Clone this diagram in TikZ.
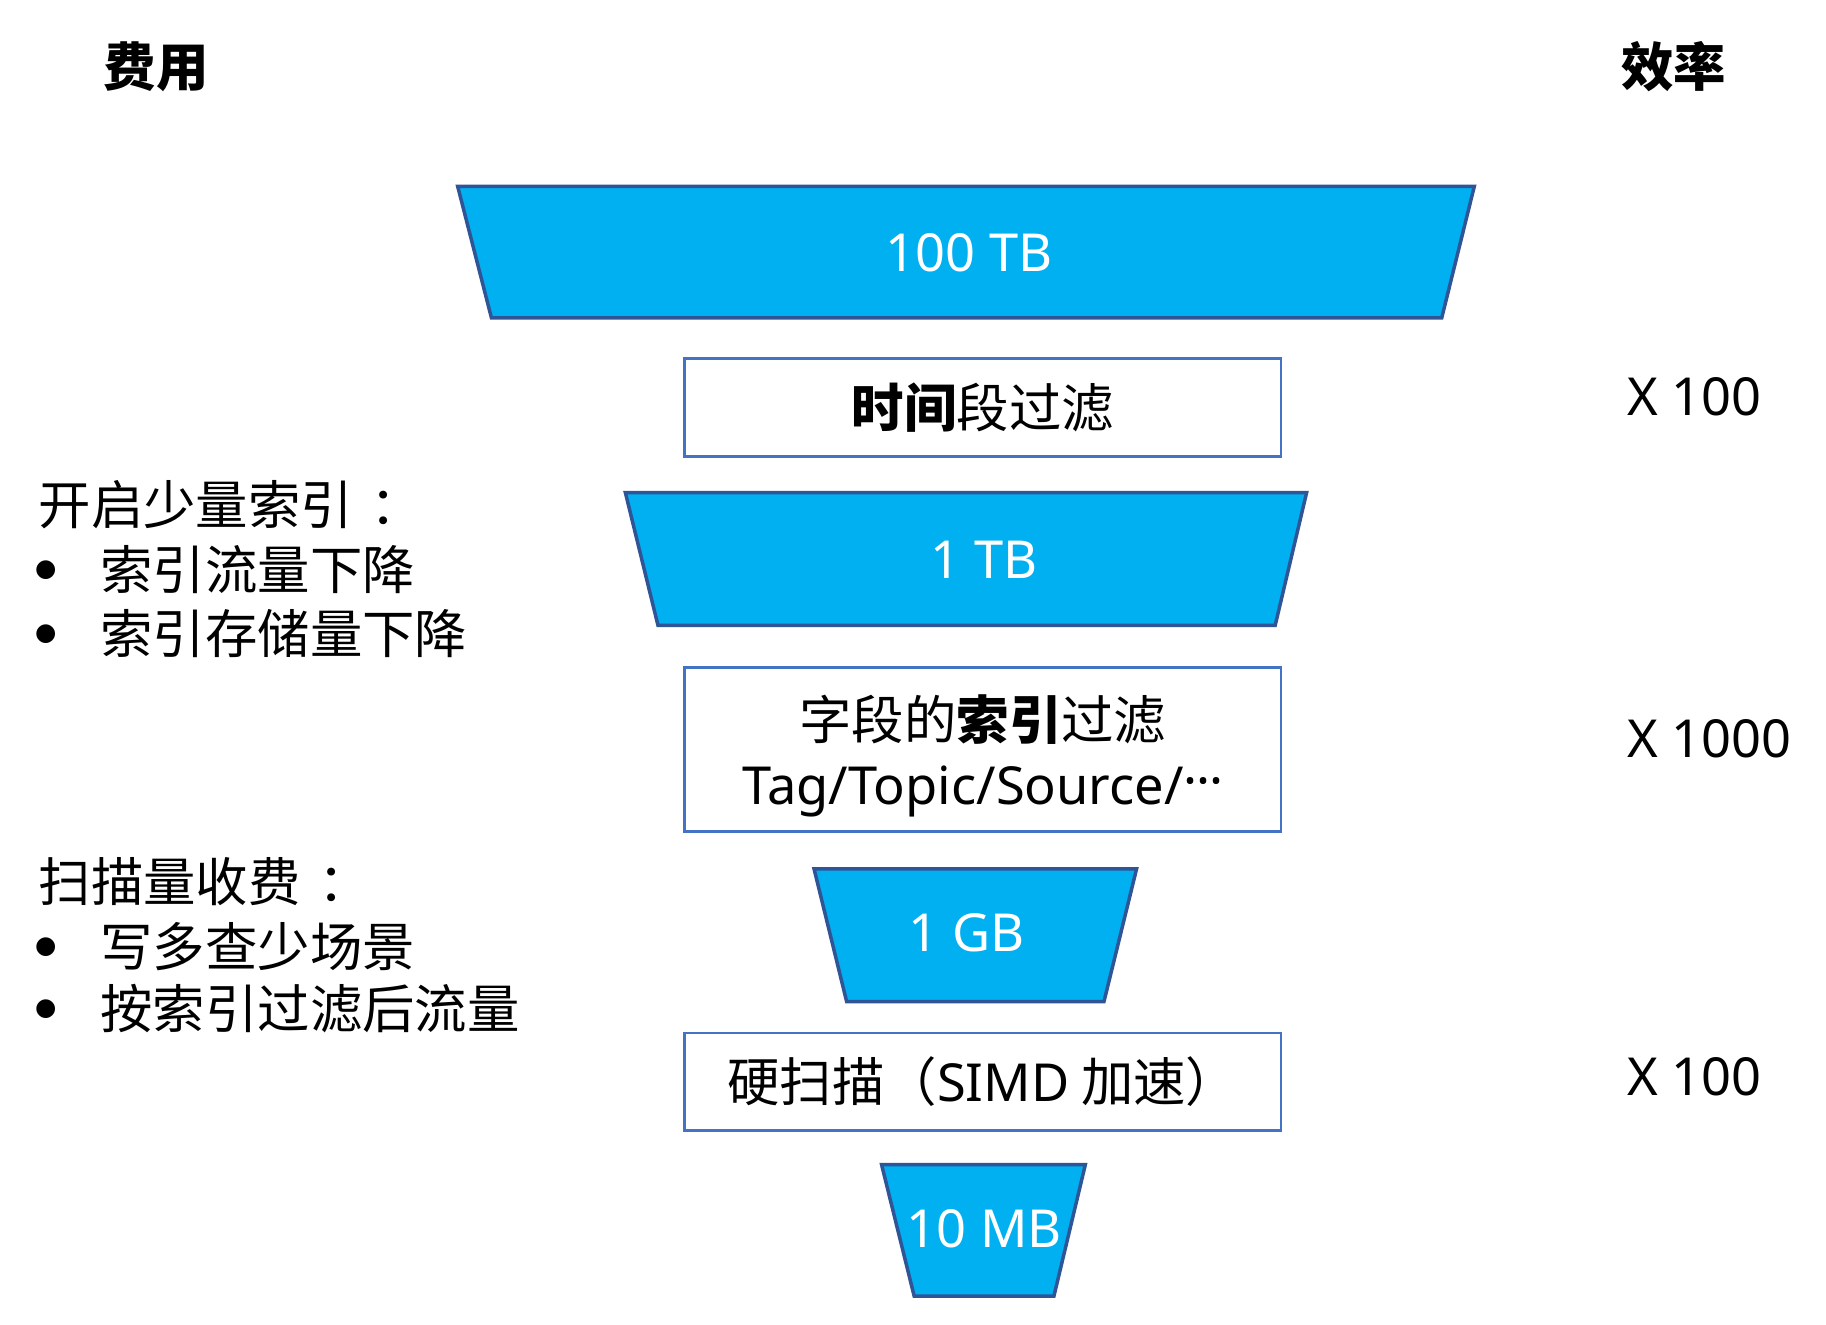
\documentclass[tikz,border=0pt]{standalone}
\usepackage{fontspec}
\setmainfont{Noto Sans CJK SC}
\newfontfamily\latin{Noto Sans}
\newfontfamily\symbolfont{DejaVu Sans}
\usepackage{xcolor}
\usepackage{tikz}

\definecolor{funnelblue}{HTML}{00B0F0}
\definecolor{funneledge}{HTML}{2F5597}
\definecolor{boxedge}{HTML}{4472C4}
\newcommand{\bulletitem}{\makebox[53pt][l]{\hspace{-3pt}\raisebox{11pt}{\symbolfont\fontsize{21}{21}\selectfont ●}}}
\newcommand{\colonmark}{\hspace{15pt}：}
\newcommand{\middots}{\raisebox{5pt}{\latin ·\kern-1pt·\kern-1pt·}}

\begin{document}
\begin{tikzpicture}[x=1pt, y=-1pt,
            funnel/.style = {fill=funnelblue, draw=funneledge, line width=3pt},
            filterbox/.style = {draw=boxedge, line width=2.5pt,
                        minimum width=512pt, inner sep=0pt},
            amount/.style = {text=white, inner sep=0pt,
                        font=\latin\fontsize{45}{54}\selectfont},
            note/.style = {anchor=base west, inner sep=0pt,
                        font=\fontsize{45}{54}\selectfont},
            gain/.style = {anchor=west, inner sep=0pt,
                        font=\latin\fontsize{45}{54}\selectfont}]
            \useasboundingbox (0,0) rectangle (1568,1137);
            % Headings
            \node[font=\fontsize{45}{54}\selectfont\bfseries] (cost) at (134,57) {费用};
            \node[font=\fontsize{45}{54}\selectfont\bfseries] (efficiency) at (1437,57) {效率};
            % Funnel layers
            \draw[funnel] (393,160) -- (1266,160) -- (1238,273) -- (422,273) -- cycle;
            \node[amount] (tb100) at (832,217) {100 TB};
            \draw[funnel] (537,423) -- (1122,423) -- (1095,537) -- (565,537) -- cycle;
            \node[amount] (tb1) at (845,481) {1 TB};
            \draw[funnel] (699,746) -- (976,746) -- (948,860) -- (727,860) -- cycle;
            \node[amount] (gb1) at (830,801) {1 GB};
            \draw[funnel] (757,1000) -- (932,1000) -- (905,1113) -- (785,1113) -- cycle;
            \node[amount] (mb10) at (845,1055) {10 MB};
            % Filter steps
            \node[filterbox, minimum height=84pt, font=\fontsize{45}{54}\selectfont]
                (timefilter) at (844,350) {{\bfseries 时间}段过滤};
            \node[filterbox, minimum height=141pt, align=center,
                font=\fontsize{45}{56}\selectfont]
                (indexfilter) at (844,643.5) {\rule{0pt}{50pt}字段的{\bfseries 索引}过滤\\
                {\latin Tag/Topic/Source/}\middots};
            \node[filterbox, minimum height=84pt, font=\fontsize{45}{54}\selectfont]
                (hardscan) at (844,929) {硬扫描（{\latin SIMD} 加速）};
            % Cost notes
            \node[note] (indexnote) at (33,450) {开启少量索引\colonmark};
            \node[note] (indexnotea) at (33,506) {\bulletitem 索引流量下降};
            \node[note] (indexnoteb) at (33,561) {\bulletitem 索引存储量下降};
            \node[note] (scannote) at (33,774) {扫描量收费\colonmark};
            \node[note] (scannotea) at (33,830) {\bulletitem 写多查少场景};
            \node[note] (scannoteb) at (33,883) {\bulletitem 按索引过滤后流量};
            % Efficiency gains
            \node[gain] (gaintime) at (1397,341) {X 100};
            \node[gain] (gainindex) at (1397,634) {X 1000};
            \node[gain] (gainscan) at (1397,925) {X 100};
        \end{tikzpicture}
\end{document}
